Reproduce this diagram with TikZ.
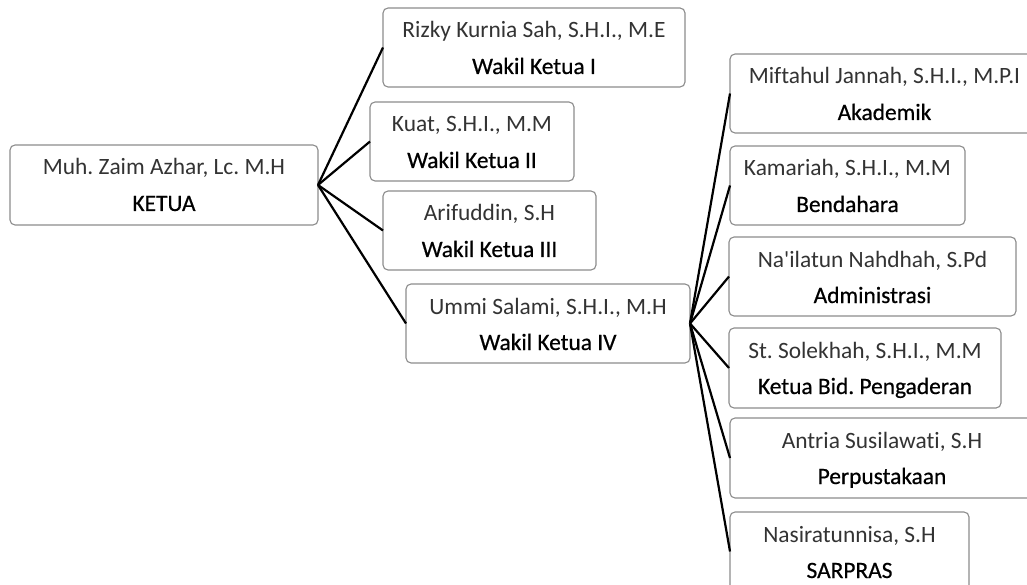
\documentclass[tikz,border=0pt]{standalone}
\usepackage{fontspec}
\newfontfamily\orgfont{Carlito}[Ligatures=NoCommon]
\newfontfamily\rolefont{Carlito}[FakeBold=0.6,Ligatures=NoCommon]
\definecolor{boxgray}{HTML}{8C8C8C}
\definecolor{persongray}{HTML}{333333}
\tikzset{
  orgbox/.style={draw=boxgray, line width=1.1pt, rounded corners=5pt, inner sep=0pt, outer sep=0pt, fill=white},
  person/.style={inner sep=0pt, font=\orgfont\fontsize{23.4}{28}\selectfont\frenchspacing, text=persongray},
  role/.style={inner sep=0pt, font=\rolefont\fontsize{23.4}{28}\selectfont\frenchspacing, text=black},
  conn/.style={draw=black, line width=2.2pt}
}
\newcommand\orgunit[7]{%
  \node[orgbox, minimum width={#4-#2}, minimum height={#5-#3}] (#1) at ({(#2+#4)/2},{(#3+#5)/2}) {};
  \node[person, anchor=base] (#1-p) at ({(#2+#4)/2},{#3+30}) {#6};
  \node[role, anchor=base] (#1-r) at ({(#2+#4)/2},{#3+66}) {#7};
}
\begin{document}
\begin{tikzpicture}[x=1pt,y=-1pt]
\useasboundingbox (0,0) rectangle (1027,585);
\clip (0,0) rectangle (1027,585);
\fill[white] (0,0) rectangle (1027,585);
\orgunit{ketua}{10}{145}{318}{225}{Muh. Zaim Azhar, Lc. M.H}{KETUA}
\orgunit{w1}{383}{8}{685}{87}{Rizky Kurnia Sah, S.H.I., M.E}{Wakil Ketua I}
\orgunit{w2}{370}{102}{574}{181}{Kuat, S.H.I., M.M}{Wakil Ketua II}
\orgunit{w3}{383}{191}{596}{270}{Arifuddin, S.H}{Wakil Ketua III}
\orgunit{w4}{406}{284}{690}{363}{Ummi Salami, S.H.I., M.H}{Wakil Ketua IV}
\orgunit{akd}{730}{54}{1039}{133}{Miftahul Jannah, S.H.I., M.P.I}{Akademik}
\orgunit{bnd}{730}{146}{965}{225}{Kamariah, S.H.I., M.M}{Bendahara}
\orgunit{adm}{729}{237}{1016}{316}{Na'ilatun Nahdhah, S.Pd}{Administrasi}
\orgunit{kbp}{729}{328}{1001}{408}{St. Solekhah, S.H.I., M.M}{Ketua Bid. Pengaderan}
\orgunit{prp}{730}{418}{1034}{498}{Antria Susilawati, S.H}{Perpustakaan}
\orgunit{srp}{730}{512}{969}{591}{Nasiratunnisa, S.H}{SARPRAS}
\foreach \t in {w1,w2,w3,w4}{\draw[conn] (ketua.east) -- (\t.west);}
\foreach \t in {akd,bnd,adm,kbp,prp,srp}{\draw[conn] (w4.east) -- (\t.west);}
\end{tikzpicture}
\end{document}
